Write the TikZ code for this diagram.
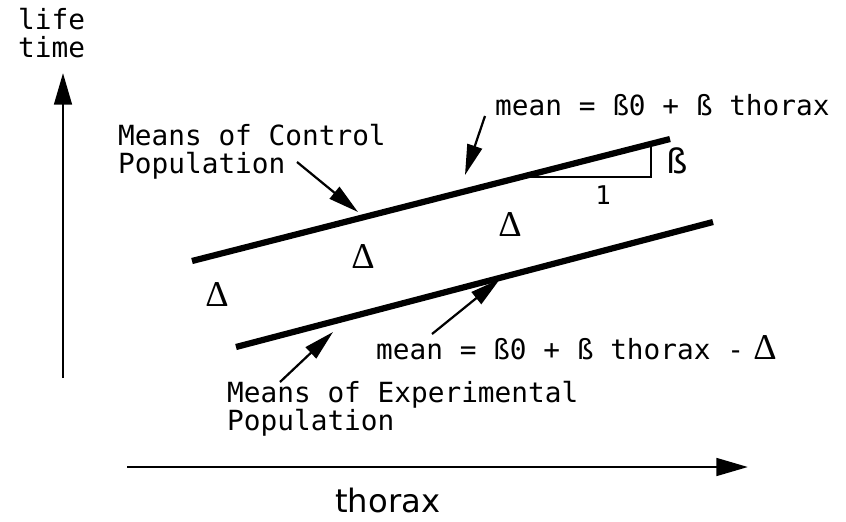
\documentclass[tikz,border=0pt]{standalone}
\usepackage{fontspec}
\setmonofont{DejaVu Sans Mono}
\setsansfont{DejaVu Sans}
\newfontfamily\deltafont{Liberation Serif}
\newcommand{\dlt}{\deltafont\fontsize{31}{31}\selectfont}
\usetikzlibrary{arrows.meta}

\begin{document}
\begin{tikzpicture}[x=0.03cm, y=-0.03cm,
  mono/.style={font=\ttfamily\fontsize{23.7}{23.5}\selectfont, inner sep=0pt, align=left, anchor=base west},
  dnode/.style={font=\dlt, inner sep=0pt},
  axis/.style={line width=2.5pt, -{Triangle[length=27pt, width=15pt]}},
  mline/.style={line width=5.3pt},
  note/.style={line width=1.9pt, -{Triangle[length=26pt, width=13pt]}}
]
\useasboundingbox (0,0) rectangle (846,521);

% axes
\coordinate (yo) at (63,378);
\coordinate (yt) at (63,73);
\coordinate (xo) at (127,467);
\coordinate (xt) at (748,467);
\draw[axis] (yo) -- (yt);
\draw[axis] (xo) -- (xt);
\node[mono] (ylab) at (18,57) {life\\time};
\node[font=\sffamily\fontsize{27.5}{27.5}\selectfont, inner sep=0pt, anchor=base west] (xlab) at (335,512) {thorax};

% mean lines
\coordinate (c0) at (192,261);
\coordinate (c1) at (670,139);
\coordinate (e0) at (236,347);
\coordinate (e1) at (713,222);
\draw[mline] (c0) -- (c1);
\draw[mline] (e0) -- (e1);

% slope triangle
\coordinate (sa) at (525,177);
\coordinate (sb) at (651,177);
\coordinate (sc) at (651,144);
\draw[line width=1.9pt] (sa) -- (sb) -- (sc);
\node[font=\sffamily\fontsize{29}{29}\selectfont, inner sep=0pt] (beta) at (677,161) {ß};
\node[font=\ttfamily\fontsize{22}{22}\selectfont, inner sep=0pt] (one) at (603,195) {1};

% shifts
\foreach \n/\x/\y in {d1/217/295, d2/363/257, d3/510/225}
  \node[dnode] (\n) at (\x,\y) {Δ};

% labels
\node[mono] (ctl) at (118,173) {Means of Control\\Population};
\node[mono] (exp) at (227,430) {Means of Experimental\\Population};
\node[mono] (eqc) at (495,115) {mean = ß0 + ß thorax};
\node[mono] (eqe) at (376,359) {mean = ß0 + ß thorax -\hspace{8pt}{\dlt Δ}};

% pointers
\coordinate (pc0) at (297,162);
\coordinate (pc1) at (358,212);
\coordinate (pq0) at (485,116);
\coordinate (pq1) at (465,175);
\coordinate (pe0) at (280,382);
\coordinate (pe1) at (333,332);
\coordinate (pr0) at (432,334);
\coordinate (pr1) at (500,279);
\draw[note] (pc0) -- (pc1);
\draw[note] (pq0) -- (pq1);
\draw[note] (pe0) -- (pe1);
\draw[note] (pr0) -- (pr1);
\end{tikzpicture}
\end{document}
